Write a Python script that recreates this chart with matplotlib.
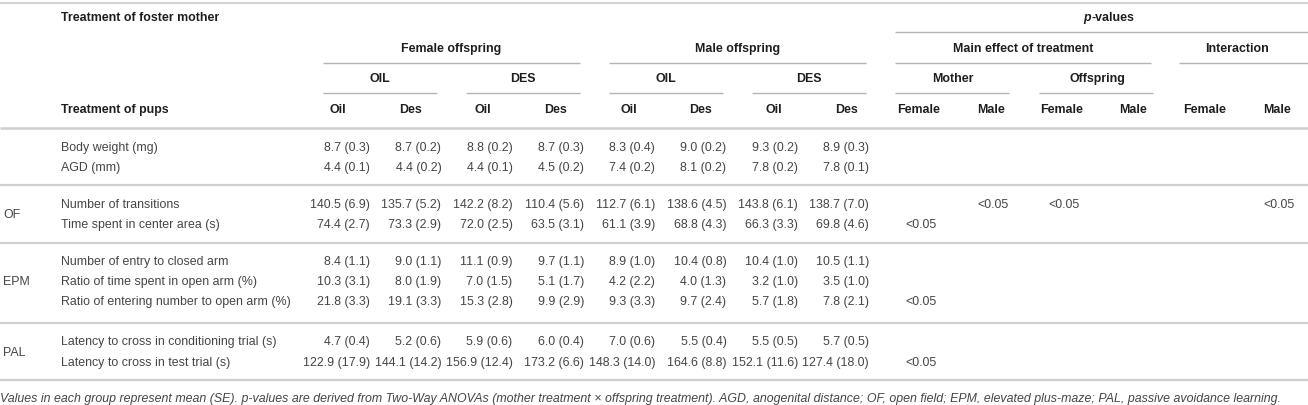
import matplotlib
matplotlib.use("Agg")
import matplotlib.pyplot as plt

# ---- table data -------------------------------------------------------
sections = ["", "OF", "EPM", "PAL"]
section_rows = [[0, 1], [2, 3], [4, 5, 6], [7, 8]]

row_labels = [
    "Body weight (mg)",
    "AGD (mm)",
    "Number of transitions",
    "Time spent in center area (s)",
    "Number of entry to closed arm",
    "Ratio of time spent in open arm (%)",
    "Ratio of entering number to open arm (%)",
    "Latency to cross in conditioning trial (s)",
    "Latency to cross in test trial (s)",
]

# columns: F-OIL-Oil, F-OIL-Des, F-DES-Oil, F-DES-Des, M-OIL-Oil, M-OIL-Des, M-DES-Oil, M-DES-Des
means = [
    [8.7, 8.7, 8.8, 8.7, 8.3, 9.0, 9.3, 8.9],
    [4.4, 4.4, 4.4, 4.5, 7.4, 8.1, 7.8, 7.8],
    [140.5, 135.7, 142.2, 110.4, 112.7, 138.6, 143.8, 138.7],
    [74.4, 73.3, 72.0, 63.5, 61.1, 68.8, 66.3, 69.8],
    [8.4, 9.0, 11.1, 9.7, 8.9, 10.4, 10.4, 10.5],
    [10.3, 8.0, 7.0, 5.1, 4.2, 4.0, 3.2, 3.5],
    [21.8, 19.1, 15.3, 9.9, 9.3, 9.7, 5.7, 7.8],
    [4.7, 5.2, 5.9, 6.0, 7.0, 5.5, 5.5, 5.7],
    [122.9, 144.1, 156.9, 173.2, 148.3, 164.6, 152.1, 127.4],
]
ses = [
    [0.3, 0.2, 0.2, 0.3, 0.4, 0.2, 0.2, 0.3],
    [0.1, 0.2, 0.1, 0.2, 0.2, 0.2, 0.2, 0.1],
    [6.9, 5.2, 8.2, 5.6, 6.1, 4.5, 6.1, 7.0],
    [2.7, 2.9, 2.5, 3.1, 3.9, 4.3, 3.3, 4.6],
    [1.1, 1.1, 0.9, 1.1, 1.0, 0.8, 1.0, 1.1],
    [3.1, 1.9, 1.5, 1.7, 2.2, 1.3, 1.0, 1.0],
    [3.3, 3.3, 2.8, 2.9, 3.3, 2.4, 1.8, 2.1],
    [0.4, 0.6, 0.6, 0.4, 0.6, 0.4, 0.5, 0.5],
    [17.9, 14.2, 12.4, 6.6, 14.0, 8.8, 11.6, 18.0],
]

# p-value columns: Mother F, Mother M, Offspring F, Offspring M, Interaction F, Interaction M
p_values = [
    ["", "", "", "", "", ""],
    ["", "", "", "", "", ""],
    ["", "<0.05", "<0.05", "", "", "<0.05"],
    ["<0.05", "", "", "", "", ""],
    ["", "", "", "", "", ""],
    ["", "", "", "", "", ""],
    ["<0.05", "", "", "", "", ""],
    ["", "", "", "", "", ""],
    ["<0.05", "", "", "", "", ""],
]

pup_labels = ["Oil", "Des"] * 4
p_labels = ["Female", "Male"] * 3

footnote = ("Values in each group represent mean (SE). p-values are derived from Two-Way ANOVAs "
            "(mother treatment \u00d7 offspring treatment). AGD, anogenital distance; OF, open field; "
            "EPM, elevated plus-maze; PAL, passive avoidance learning.")

# ---- layout -----------------------------------------------------------
W, H = 1308, 405
fig = plt.figure(figsize=(W / 100, H / 100), dpi=100)
ax = fig.add_axes([0, 0, 1, 1])
ax.set_xlim(0, W)
ax.set_ylim(H, 0)
ax.axis("off")

FONT = ["Liberation Sans", "DejaVu Sans"]
FS = 8.95
body_c = "#454545"
head_c = "#1e1e1e"
rule_c = "#cfcfcf"
sub_c = "#b4b4b4"

row_y = [148, 168, 205, 225, 262, 282, 302, 342, 363]
label_x = 61
section_x = 3
data_right = [370 + 71.3 * i for i in range(8)]
head_cx = [338 + 72.6 * i for i in range(8)]
p_cx = [919 + 71.5 * i for i in range(6)]


def txt(x, y, s, bold=False, ha="left", color=None, style="normal", size=FS):
    ax.text(x, y, s, ha=ha, va="center", fontsize=size, family=FONT,
            fontweight="bold" if bold else "normal", fontstyle=style,
            color=color or (head_c if bold else body_c))


def hline(y, x0, x1, color=rule_c, lw=1.6):
    ax.plot([x0, x1], [y, y], color=color, lw=lw, solid_capstyle="butt")


# full-width rules
hline(2.5, 0, W, lw=1.3)
hline(128, 0, W, lw=1.8)
for y in [185, 243, 323, 380]:
    hline(y, 0, W, lw=1.6)

# header text
txt(label_x, 18, "Treatment of foster mother", bold=True)
txt(label_x, 110, "Treatment of pups", bold=True)
txt(1091, 18, "p", bold=True, ha="right", style="italic")
txt(1091, 18, "-values", bold=True)
hline(32, 895, W, color=sub_c, lw=1.0)

for i, name in enumerate(["Female offspring", "Male offspring"]):
    x0, x1 = 323 + 286 * i, 580 + 286 * i
    txt((x0 + x1) / 2, 49, name, bold=True, ha="center")
    hline(63, x0, x1, color=sub_c, lw=1.0)
    for j, grp in enumerate(["OIL", "DES"]):
        g0 = x0 + 143 * j
        txt(g0 + 57, 79, grp, bold=True, ha="center")
        hline(93, g0, g0 + 114, color=sub_c, lw=1.0)

txt(1023, 49, "Main effect of treatment", bold=True, ha="center")
hline(63, 895, 1151, color=sub_c, lw=1.0)
txt(1237, 49, "Interaction", bold=True, ha="center")
hline(63, 1179, W, color=sub_c, lw=1.0)
for j, grp in enumerate(["Mother", "Offspring"]):
    g0 = 895 + 144 * j
    txt(g0 + 58, 79, grp, bold=True, ha="center")
    hline(93, g0, g0 + 114, color=sub_c, lw=1.0)

for cx, lab in zip(head_cx, pup_labels):
    txt(cx, 110, lab, bold=True, ha="center")
for cx, lab in zip(p_cx, p_labels):
    txt(cx, 110, lab, bold=True, ha="center")

# body
for name, rows in zip(sections, section_rows):
    if name:
        ys = [row_y[r] for r in rows]
        txt(section_x, (min(ys) + max(ys)) / 2, name)

for r, lab in enumerate(row_labels):
    y = row_y[r]
    txt(label_x, y, lab)
    for c in range(8):
        txt(data_right[c], y, f"{means[r][c]:.1f} ({ses[r][c]:.1f})", ha="right")
    for c, p in enumerate(p_values[r]):
        if p:
            txt(p_cx[c] + 2, y, p, ha="center")

txt(0, 399, footnote, style="italic")

fig.savefig("out.png", dpi=100)
